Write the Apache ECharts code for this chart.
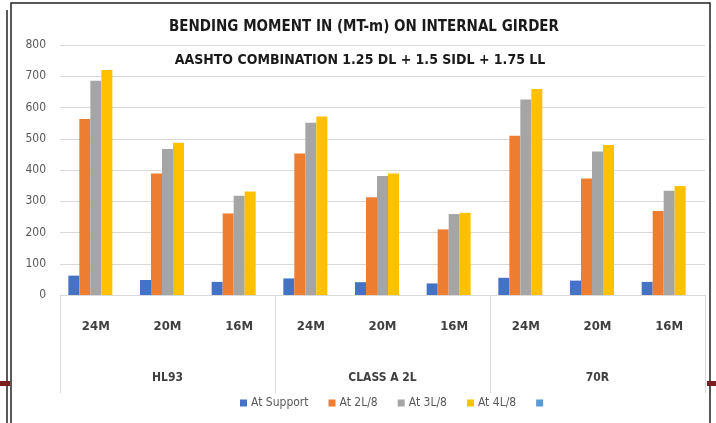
<!DOCTYPE html>
<html>
<head>
<meta charset="utf-8">
<script src="https://cdn.jsdelivr.net/npm/echarts@6/dist/echarts.min.js"></script>
<style>
html,body{margin:0;padding:0;background:#fff;}
#chart{width:716px;height:423px;}
</style>
</head>
<body>
<div id="chart"></div>
<script>
const titleText = 'BENDING MOMENT IN (MT-m) ON INTERNAL GIRDER';
const subtitleText = 'AASHTO COMBINATION 1.25 DL + 1.5 SIDL + 1.75 LL';
const spans = ['24M','20M','16M','24M','20M','16M','24M','20M','16M'];
const groups = ['HL93','CLASS A 2L','70R'];
const seriesNames = ['At Support','At 2L/8','At 3L/8','At 4L/8',' '];
const atSupport = [62, 48, 42, 53, 41, 37, 55, 46, 42];
const at2L8 = [563, 389, 261, 453, 313, 210, 510, 373, 269];
const at3L8 = [686, 467, 318, 551, 381, 259, 626, 459, 334];
const at4L8 = [720, 487, 331, 571, 389, 263, 659, 480, 349];
const blankSeries = [null, null, null, null, null, null, null, null, null];
const yTicks = [0, 100, 200, 300, 400, 500, 600, 700, 800];

const colors = ['#4472C4','#ED7D31','#A5A5A5','#FFC000','#5B9BD5'];
const valuesList = [atSupport, at2L8, at3L8, at4L8, blankSeries];
const FONT = '"Liberation Sans Narrow","DejaVu Sans Condensed","Liberation Sans",sans-serif';

const chart = echarts.init(document.getElementById('chart'));
chart.setOption({
  animation: false,
  backgroundColor: '#fff',
  color: colors,
  grid: { left: 60, right: 11, top: 45, bottom: 128, containLabel: false },
  legend: {
    data: seriesNames,
    bottom: 9,
    left: 235,
    itemWidth: 7, itemHeight: 7, itemGap: 20,
    icon: 'rect',
    textStyle: { color: '#595959', fontSize: 12, fontFamily: FONT, padding: [0,0,0,-1] }
  },
  xAxis: [
    {
      type: 'category', data: spans, position: 'bottom',
      axisLine: { lineStyle: { color: '#d9d9d9' } },
      axisTick: { show: false },
      axisLabel: { margin: 25, color: '#404040', fontSize: 13, fontWeight: 'bold', fontFamily: FONT }
    },
    {
      type: 'category', data: groups, position: 'bottom', offset: 0,
      axisLine: { show: false },
      axisTick: { show: true, length: 98, lineStyle: { color: '#d9d9d9' } },
      axisLabel: { margin: 77, color: '#404040', fontSize: 12, fontWeight: 'bold', fontFamily: FONT }
    }
  ],
  yAxis: {
    type: 'value', min: yTicks[0], max: yTicks[yTicks.length-1], interval: yTicks[1]-yTicks[0],
    axisLine: { show: false }, axisTick: { show: false },
    splitLine: { lineStyle: { color: '#d9d9d9' } },
    axisLabel: { margin: 14, color: '#595959', fontSize: 12, fontFamily: FONT }
  },
  series: seriesNames.map((n, i) => ({
    name: n, type: 'bar', xAxisIndex: 0, data: valuesList[i],
    barWidth: 11, barGap: '0%',
    itemStyle: { color: colors[i] }
  })),
  graphic: [
    { type: 'text', x: 364, y: 27, style: { text: titleText, textAlign: 'center', textVerticalAlign: 'middle', fontSize: 15, fontWeight: 'bold', fontFamily: FONT, fill: '#1a1a1a' } },
    { type: 'text', x: 360, y: 60, style: { text: subtitleText, textAlign: 'center', textVerticalAlign: 'middle', fontSize: 14, fontWeight: 'bold', fontFamily: FONT, fill: '#1a1a1a' } },
    { type: 'rect', shape: { x: 11, y: 3, width: 699, height: 440 }, style: { fill: 'none', stroke: '#222', lineWidth: 1.5 } },
    { type: 'line', shape: { x1: 7, y1: 10, x2: 7, y2: 423 }, style: { stroke: '#222', lineWidth: 1.5 } },
    { type: 'rect', shape: { x: 0, y: 381, width: 10, height: 5 }, style: { fill: '#7a1f1f' } },
    { type: 'rect', shape: { x: 707, y: 381, width: 9, height: 5 }, style: { fill: '#7a1f1f' } }
  ]
});
</script>
</body>
</html>
